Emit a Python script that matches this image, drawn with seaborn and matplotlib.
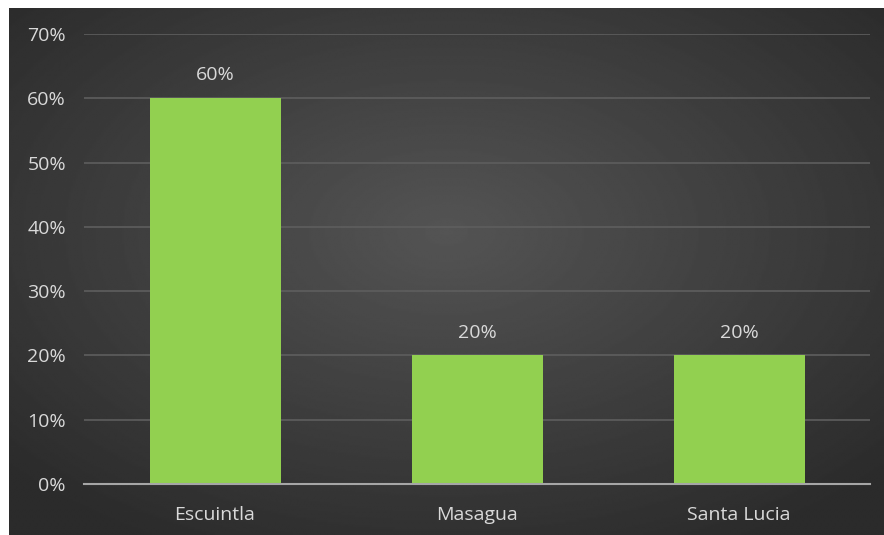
import numpy as np
import pandas as pd
import matplotlib
matplotlib.use("Agg")
import matplotlib.pyplot as plt
import seaborn as sns

# Share of responses by municipality
municipios = ["Escuintla", "Masagua", "Santa Lucia"]
porcentajes = [0.60, 0.20, 0.20]
y_ticks = [0.0, 0.1, 0.2, 0.3, 0.4, 0.5, 0.6, 0.7]
y_tick_labels = ["0%", "10%", "20%", "30%", "40%", "50%", "60%", "70%"]

df = pd.DataFrame({"Municipio": municipios, "Porcentaje": porcentajes})

sns.set_theme(style="dark")
plt.rcParams["font.family"] = ["Open Sans", "DejaVu Sans"]

W, H = 884, 535
fig = plt.figure(figsize=(W / 100, H / 100), dpi=100, facecolor="white")

# Dark radial-gradient backdrop for the chart area
bg_left, bg_top = 9 / W, 8 / H
bg = fig.add_axes([bg_left, 0, 1 - bg_left, 1 - bg_top])
bg.set_axis_off()
yy, xx = np.mgrid[-1:1:300j, -1:1:500j]
r = np.sqrt(xx ** 2 + (yy + 0.15) ** 2)
shade = 0.33 - 0.16 * np.clip(r / 1.35, 0, 1)
bg.imshow(shade, cmap="gray", vmin=0, vmax=1, aspect="auto",
          extent=[0, 1, 0, 1], interpolation="bilinear", origin="upper")

# Plot area
left_px, right_px = 84, 870
top_px, bottom_px = 34, 484
ax = fig.add_axes([left_px / W, 1 - bottom_px / H,
                   (right_px - left_px) / W, (bottom_px - top_px) / H])
ax.patch.set_alpha(0)

sns.barplot(data=df, x="Municipio", y="Porcentaje", color="#92D050",
            width=0.5, saturation=1, linewidth=0, ax=ax, zorder=3)

ax.set_xlim(-0.5, 2.5)
ax.set_ylim(0, 0.7)
ax.set_yticks(y_ticks)
ax.set_yticklabels(y_tick_labels)
ax.set_xlabel("")
ax.set_ylabel("")

for s in ["top", "right", "left"]:
    ax.spines[s].set_visible(False)
ax.spines["bottom"].set_color("#a6a6a6")
ax.spines["bottom"].set_linewidth(1.5)
ax.spines["bottom"].set_zorder(4)

ax.grid(axis="y", color="#5e5e5e", linewidth=1.2, zorder=0)
ax.grid(axis="x", visible=False)
ax.set_axisbelow(True)

ax.tick_params(axis="both", length=0, colors="#d9d9d9", labelsize=14)
ax.tick_params(axis="y", pad=13)
ax.tick_params(axis="x", pad=16)

for container in ax.containers:
    ax.bar_label(container, labels=[f"{v * 100:.0f}%" for v in porcentajes],
                 padding=10, color="#d9d9d9", fontsize=14)

fig.savefig("out.png", dpi=100, facecolor="white")
